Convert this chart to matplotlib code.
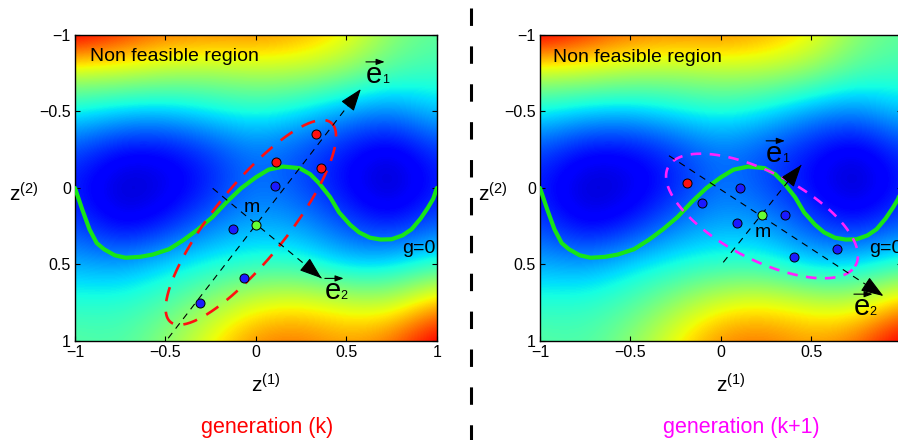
import matplotlib
matplotlib.use("Agg")
import matplotlib.pyplot as plt
import numpy as np
from matplotlib.lines import Line2D
from matplotlib.transforms import ScaledTranslation

plt.rcParams.update({
    "font.family": ["Liberation Sans", "DejaVu Sans"],
    "mathtext.fontset": "custom",
    "mathtext.rm": "Liberation Sans",
    "mathtext.it": "Liberation Sans:italic",
    "mathtext.bf": "Liberation Sans:bold",
    "axes.linewidth": 1.0,
    "xtick.direction": "in",
    "ytick.direction": "in",
    "xtick.top": True,
    "ytick.right": True,
    "xtick.major.size": 3.5,
    "ytick.major.size": 3.5,
    "xtick.labelsize": 11.5,
    "ytick.labelsize": 11.5,
})

# background landscape, read on a coarse grid (rows: z2 from -1 to 1, cols: z1 from -1 to 1)
grid_z = [-1.0, -0.75, -0.5, -0.25, 0.0, 0.25, 0.5, 0.75, 1.0]
field = np.array([
    [0.97, 0.88, 0.80, 0.78, 0.78, 0.74, 0.66, 0.52, 0.46],
    [0.58, 0.58, 0.55, 0.54, 0.56, 0.56, 0.52, 0.44, 0.42],
    [0.37, 0.33, 0.32, 0.36, 0.39, 0.35, 0.28, 0.25, 0.33],
    [0.20, 0.12, 0.12, 0.18, 0.25, 0.20, 0.14, 0.08, 0.18],
    [0.15, 0.05, 0.08, 0.15, 0.25, 0.20, 0.12, 0.04, 0.15],
    [0.20, 0.10, 0.15, 0.25, 0.30, 0.28, 0.20, 0.14, 0.22],
    [0.30, 0.28, 0.34, 0.38, 0.40, 0.40, 0.32, 0.34, 0.40],
    [0.40, 0.40, 0.44, 0.53, 0.62, 0.64, 0.60, 0.57, 0.72],
    [0.46, 0.44, 0.52, 0.65, 0.78, 0.80, 0.74, 0.80, 0.96],
])

# constraint boundary g=0
g_z1 = [-1.0, -0.96, -0.92, -0.88, -0.84, -0.78, -0.72, -0.64, -0.57, -0.48, -0.40, -0.32,
        -0.24, -0.16, -0.08, 0.0, 0.07, 0.15, 0.24, 0.30, 0.35, 0.41, 0.46, 0.52,
        0.57, 0.63, 0.69, 0.75, 0.81, 0.86, 0.91, 0.95, 0.98, 1.0]
g_z2 = [0.0, 0.14, 0.27, 0.36, 0.40, 0.44, 0.456, 0.45, 0.435, 0.40, 0.34, 0.27,
        0.19, 0.09, 0.0, -0.07, -0.12, -0.14, -0.13, -0.09, -0.03, 0.06, 0.16, 0.24,
        0.29, 0.325, 0.337, 0.335, 0.31, 0.27, 0.2, 0.13, 0.07, 0.0]

# generation k
k_red_z1 = [0.330, 0.109, 0.361]
k_red_z2 = [-0.351, -0.172, -0.129]
k_blue_z1 = [0.105, -0.125, -0.065, -0.309]
k_blue_z2 = [-0.015, 0.268, 0.586, 0.754]
k_mean = (0.0, 0.240)
k_ell_center = (-0.028, 0.225)
k_ell_a1 = (0.446, -0.649)
k_ell_a2 = (0.151, 0.163)
k_e1 = ((-0.485, 0.982), (0.580, -0.647))
k_e2 = ((-0.239, 0.002), (0.363, 0.590))

# generation k+1
k1_red_z1 = [-0.185]
k1_red_z2 = [-0.033]
k1_blue_z1 = [-0.104, 0.107, 0.087, 0.356, 0.402, 0.641]
k1_blue_z2 = [0.096, -0.002, 0.227, 0.174, 0.449, 0.399]
k1_mean = (0.226, 0.176)
k1_ell_center = (0.227, 0.183)
k1_ell_a1 = (0.514, 0.329)
k1_ell_a2 = (0.13, -0.24)
k1_e1 = ((0.013, 0.486), (0.444, -0.150))
k1_e2 = ((-0.287, -0.211), (0.898, 0.706))

ticks = [-1, -0.5, 0, 0.5, 1]
tick_labels = ["\u22121", "\u22120.5", "0", "0.5", "1"]

RED = "#ff1010"
BLUE = "#1a1aff"
MGREEN = "#66ff33"
LINEGREEN = "#17e617"
MAGENTA = "#ff22ff"

fig = plt.figure(figsize=(8.98, 4.40), dpi=100)
ax_l = fig.add_axes([0.0835, 0.225, 0.403, 0.6955])
ax_r = fig.add_axes([0.6013, 0.225, 0.403, 0.6955])


def arrow_head(ax, p0, p1):
    d = ax.transData.transform([p1]) - ax.transData.transform([p0])
    d = d[0] / np.hypot(*d[0])
    back = -d * 17 * 72 / fig.dpi
    ax.annotate("", xy=p1, xytext=(back[0], back[1]), textcoords="offset points",
                arrowprops=dict(arrowstyle="-|>,head_length=1.4,head_width=0.5",
                                color="k", lw=0.8, shrinkA=0, shrinkB=0,
                                mutation_scale=10), zorder=6)


def vec_label(ax, x, y, sub):
    ax.text(x, y, "e", fontsize=21, va="baseline", ha="left", zorder=7)
    ax.annotate(sub, (x, y), xytext=(11.3, 0), textcoords="offset points",
                fontsize=9, va="baseline", ha="left", zorder=7)
    tail = ax.transData + ScaledTranslation(0, 15 / 72, fig.dpi_scale_trans)
    tip = ax.transData + ScaledTranslation(13.5 / 72, 15 / 72, fig.dpi_scale_trans)
    ax.annotate("", xy=(x, y), xycoords=tip, xytext=(x, y), textcoords=tail,
                arrowprops=dict(arrowstyle="-|>,head_length=0.5,head_width=0.18",
                                color="k", lw=0.8, shrinkA=0, shrinkB=0,
                                mutation_scale=10), zorder=7)


def panel(ax, red_z1, red_z2, blue_z1, blue_z2, mean, c, a1, a2, e1, e2,
          ell_color, ell_dashes, e1_lab, e2_lab, m_lab, g_lab, nf_lab, ylab_x):
    ax.imshow(field, cmap="jet", vmin=0, vmax=1, interpolation="bicubic",
              extent=[-1.125, 1.125, 1.125, -1.125], origin="upper", aspect="auto", zorder=0)
    ax.set_xlim(-1, 1)
    ax.set_ylim(1, -1)

    ax.plot(g_z1, g_z2, color=LINEGREEN, lw=3.0, solid_capstyle="round", zorder=3)

    t = np.linspace(0, 2 * np.pi, 300)
    ex = c[0] + a1[0] * np.cos(t) + a2[0] * np.sin(t)
    ey = c[1] + a1[1] * np.cos(t) + a2[1] * np.sin(t)
    ax.plot(ex, ey, color=ell_color, lw=1.9, dashes=ell_dashes, zorder=4)

    for p0, p1 in (e1, e2):
        ax.plot([p0[0], p1[0]], [p0[1], p1[1]], color="k", lw=0.8, dashes=(6, 5), zorder=5)
        arrow_head(ax, p0, p1)

    ax.plot(red_z1, red_z2, "o", ms=6.5, mfc=RED, mec="k", mew=0.7, zorder=8)
    ax.plot(blue_z1, blue_z2, "o", ms=6.5, mfc=BLUE, mec="k", mew=0.7, zorder=8)
    ax.plot([mean[0]], [mean[1]], "o", ms=6.5, mfc=MGREEN, mec="k", mew=0.7, zorder=8)

    vec_label(ax, *e1_lab, "1")
    vec_label(ax, *e2_lab, "2")
    ax.text(*m_lab, "m", fontsize=14, va="baseline", ha="left", zorder=7)
    ax.text(*g_lab, "g=0", fontsize=14, va="baseline", ha="left", zorder=7)
    ax.text(*nf_lab, "Non feasible region", fontsize=14, va="baseline", ha="left", zorder=7)

    ax.set_xticks(ticks)
    ax.set_xticklabels(tick_labels)
    ax.set_yticks(ticks)
    ax.set_yticklabels(tick_labels)
    ax.tick_params(pad=3, width=0.8)
    ax.set_xlabel("z$^{(1)}$", fontsize=15, va="top")
    ax.xaxis.set_label_coords(0.527, -0.105)
    ax.set_ylabel("z$^{(2)}$", fontsize=15, rotation=0, ha="right", va="center")
    ax.yaxis.set_label_coords(ylab_x, 0.48)


panel(ax_l, k_red_z1, k_red_z2, k_blue_z1, k_blue_z2, k_mean,
      k_ell_center, k_ell_a1, k_ell_a2, k_e1, k_e2, RED, (5.5, 4.0),
      (0.608, -0.688), (0.381, 0.727), (-0.07, 0.155), (0.808, 0.427), (-0.917, -0.83), -0.10)
panel(ax_r, k1_red_z1, k1_red_z2, k1_blue_z1, k1_blue_z2, k1_mean,
      k1_ell_center, k1_ell_a1, k1_ell_a2, k1_e1, k1_e2, MAGENTA, (4.0, 3.2),
      (0.25, -0.172), (0.735, 0.83), (0.185, 0.322), (0.818, 0.427), (-0.926, -0.826), -0.09)

fig.text(267 / 898, 1 - 427 / 440, "generation (k)", color="#ff0000", fontsize=15.5,
         ha="center", va="center")
fig.text(741 / 898, 1 - 427 / 440, "generation (k+1)", color="#ff00ff", fontsize=15.5,
         ha="center", va="center")

fig.add_artist(Line2D([470.7 / 898, 470.7 / 898], [1 - 8 / 440, 0], transform=fig.transFigure,
                      color="k", lw=2.2, dashes=(5.7, 6.7), solid_capstyle="butt"))

fig.savefig("out.png", dpi=100)
